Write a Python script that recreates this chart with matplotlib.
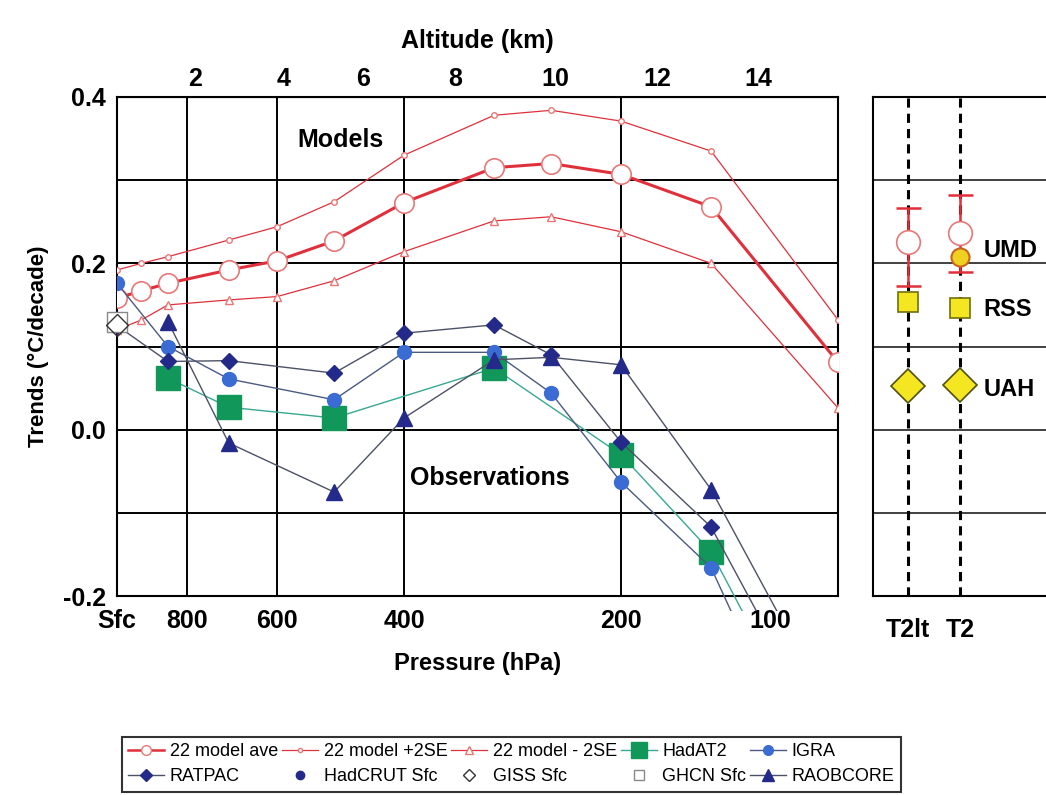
import numpy as np
import matplotlib.pyplot as plt
from matplotlib.lines import Line2D
from matplotlib.patches import Rectangle

plt.rcParams['font.family'] = ['Liberation Sans', 'DejaVu Sans']

# =========================================================
# Data
# =========================================================
p_model = [1000, 925, 850, 700, 600, 500, 400, 300, 250, 200, 150, 100]
model_ave = [0.158, 0.167, 0.176, 0.192, 0.203, 0.227, 0.273, 0.315, 0.320, 0.307, 0.268, 0.081]
model_p2se = [0.192, 0.200, 0.208, 0.228, 0.244, 0.274, 0.330, 0.378, 0.384, 0.371, 0.335, 0.132]
model_m2se = [0.120, 0.132, 0.150, 0.156, 0.160, 0.179, 0.214, 0.251, 0.256, 0.238, 0.200, 0.026]

p_hadat = [850, 700, 500, 300, 200, 150, 100]
hadat2 = [0.062, 0.027, 0.014, 0.074, -0.030, -0.147, -0.437]

p_igra = [1000, 850, 700, 500, 400, 300, 250, 200, 150, 100]
igra = [0.176, 0.100, 0.061, 0.036, 0.093, 0.093, 0.044, -0.063, -0.166, -0.498]

p_ratpac = [1000, 850, 700, 500, 400, 300, 250, 200, 150, 100]
ratpac = [0.125, 0.082, 0.083, 0.068, 0.116, 0.126, 0.090, -0.015, -0.117, -0.400]

p_raob = [850, 700, 500, 400, 300, 250, 200, 150, 100]
raobcore = [0.130, -0.016, -0.075, 0.014, 0.084, 0.087, 0.078, -0.072, -0.354]

hadcrut_sfc = 0.125
giss_sfc = 0.126
ghcn_sfc = 0.130

# satellite panel
sat_x = [1, 2]
sat_labels = ["T2lt", "T2"]
sat_model = [0.226, 0.236]
sat_model_hi = [0.267, 0.282]
sat_model_lo = [0.173, 0.190]
umd_t2 = 0.208
rss = [0.153, 0.146]
uah = [0.052, 0.054]

alt_km = ["2", "4", "6", "8", "10", "12", "14"]
alt_p = [779, 588, 456, 340, 247, 178, 129]

# =========================================================
# Figure
# =========================================================
fig = plt.figure(figsize=(10.46, 7.95), dpi=100)
ax = fig.add_axes([0.1119, 0.2503, 0.6893, 0.6277])
ax2 = fig.add_axes([0.8346, 0.2503, 0.179, 0.6277])

red = "#e0303c"
redm = "#e87878"
navy = "#232a8a"
blue = "#3a6cd4"
green = "#12975a"
lgrey = "#4c5166"

clip = Rectangle((0, -0.03), 1, 1.03, transform=ax.transAxes)

# ---- Models ----
ax.plot(p_model, model_p2se, color=red, lw=0.9, marker="o", ms=4,
        mfc="white", mec=redm, zorder=4)
ax.plot(p_model, model_m2se, color=red, lw=0.9, marker="^", ms=6,
        mfc="white", mec=redm, zorder=4)
ax.plot(p_model, model_ave, color=red, lw=2.2, marker="o", ms=14,
        mfc="white", mec=redm, mew=1.2, zorder=5)

# ---- Observations ----
obs = [
    (p_hadat, hadat2, "s", 17, green, "#38a890"),
    (p_igra, igra, "o", 10, blue, "#4a5a80"),
    (p_ratpac, ratpac, "D", 8, navy, lgrey),
    (p_raob, raobcore, "^", 11, navy, lgrey),
]
for pp, vv, mk, ms, mc, lc in obs:
    ln, = ax.plot(pp, vv, color=lc, lw=1.0, marker=mk, ms=ms, mfc=mc,
                  mec=mc, zorder=6)
    ln.set_clip_path(clip)

ax.plot([1000], [ghcn_sfc], marker="s", ms=14, mfc="white", mec="#888888",
        ls="none", zorder=7, clip_on=False)
ax.plot([1000], [giss_sfc], marker="D", ms=11, mfc="none", mec="#333333",
        ls="none", zorder=7, clip_on=False)
ax.plot([1000], [hadcrut_sfc], marker="o", ms=9, mfc=navy, mec=navy,
        ls="none", zorder=6, clip_on=False)

ax.set_xscale("log")
ax.set_xlim(1000, 100)
ax.set_ylim(-0.2, 0.4)
ax.set_xticks([1000, 800, 600, 400, 200])
ax.set_xticklabels(["Sfc", "800", "600", "400", "200"])
ax.minorticks_off()
ax.set_yticks([-0.2, 0.0, 0.2, 0.4])
ax.set_yticklabels(["-0.2", "0.0", "0.2", "0.4"])
ax.tick_params(axis="both", labelsize=18, length=0, pad=9)
ax.tick_params(axis="y", pad=8)
for t in ax.get_xticklabels() + ax.get_yticklabels():
    t.set_fontweight("bold")
for yv in [-0.1, 0.0, 0.1, 0.2, 0.3]:
    ax.axhline(yv, color="black", lw=1.4, zorder=1)
for xv in [800, 600, 400, 200]:
    ax.axvline(xv, color="black", lw=1.4, zorder=1)
for s in ax.spines.values():
    s.set_linewidth(1.5)

ax.text(124, -0.2155, "100", ha="center", va="top", fontsize=18,
        fontweight="bold")

ax.set_xlabel("Pressure (hPa)", fontsize=17, fontweight="bold", labelpad=14)
ax.set_ylabel("Trends (°C/decade)", fontsize=16, fontweight="bold", labelpad=10)

ax.text(490, 0.348, "Models", fontsize=18, fontweight="bold",
        ha="center", va="center")
ax.text(304, -0.058, "Observations", fontsize=18, fontweight="bold",
        ha="center", va="center")

top = ax.secondary_xaxis("top")
top.set_xticks(alt_p)
top.set_xticklabels(alt_km)
top.minorticks_off()
top.tick_params(length=0, labelsize=18, pad=4)
for t in top.get_xticklabels():
    t.set_fontweight("bold")
top.set_xlabel("Altitude (km)", fontsize=18, fontweight="bold", labelpad=14)

# ---- Satellite panel ----
ax2.set_ylim(-0.2, 0.4)
ax2.set_xlim(0.327, 3.92)
for yv in [-0.1, 0.0, 0.1, 0.2, 0.3]:
    ax2.axhline(yv, color="#333333", lw=1.3, zorder=1)
for xv in sat_x:
    ax2.axvline(xv, color="black", lw=2.2, ls=(0, (3, 2)), zorder=2)
ax2.errorbar(sat_x, sat_model,
             yerr=[np.array(sat_model) - np.array(sat_model_lo),
                   np.array(sat_model_hi) - np.array(sat_model)],
             fmt="none", ecolor=red, elinewidth=1.8, capsize=9, capthick=1.8,
             zorder=3)
ax2.plot(sat_x, sat_model, ls="none", marker="o", ms=17, mfc="white",
         mec=redm, mew=1.2, zorder=4)
ax2.plot([2], [umd_t2], ls="none", marker="o", ms=13, mfc="#f0d020",
         mec="#c8641e", mew=1.5, zorder=5)
ax2.plot(sat_x, rss, ls="none", marker="s", ms=14, mfc="#f4e620",
         mec="#707010", mew=1.2, zorder=5)
ax2.plot(sat_x, uah, ls="none", marker="D", ms=17, mfc="#f4e620",
         mec="#505010", mew=1.2, zorder=5)
ax2.text(2.45, 0.216, "UMD", fontsize=17, fontweight="bold", va="center")
ax2.text(2.45, 0.144, "RSS", fontsize=17, fontweight="bold", va="center")
ax2.text(2.45, 0.048, "UAH", fontsize=17, fontweight="bold", va="center")
ax2.set_xticks(sat_x)
ax2.set_xticklabels(sat_labels)
ax2.set_yticks([])
ax2.tick_params(axis="x", length=0, labelsize=18, pad=16)
for t in ax2.get_xticklabels():
    t.set_fontweight("bold")
for s in ax2.spines.values():
    s.set_linewidth(1.5)

# ---- Legend ----
def h(color, lw, mk, ms, mfc, mec, ls="-"):
    return Line2D([], [], color=color, lw=lw, marker=mk, ms=ms, mfc=mfc,
                  mec=mec, ls=ls)

handles = [
    h(red, 1.8, "o", 7, "white", redm),
    h(lgrey, 1.0, "D", 6, navy, navy),
    h(red, 0.9, "o", 3, "white", redm),
    h(navy, 0, "o", 6, navy, navy, ls="none"),
    h(red, 0.9, "^", 6, "white", redm),
    h("#333333", 0, "D", 6, "none", "#333333", ls="none"),
    h("#38a890", 1.0, "s", 11, green, green),
    h("#888888", 0, "s", 7, "white", "#888888", ls="none"),
    h("#4a5a80", 1.0, "o", 7, blue, blue),
    h(lgrey, 1.0, "^", 8, navy, navy),
]
labels = ["22 model ave", "RATPAC", "22 model +2SE", "HadCRUT Sfc",
          "22 model - 2SE", "GISS Sfc", "HadAT2", "GHCN Sfc", "IGRA",
          "RAOBCORE"]
leg = fig.legend(handles, labels, loc="lower left", ncol=5,
                 bbox_to_anchor=(0.108, -0.007, 0.762, 0.072), mode="expand",
                 fontsize=13, frameon=True, fancybox=False, handlelength=2.0,
                 handletextpad=0.3, columnspacing=0.3, borderpad=0.35,
                 labelspacing=0.45)
leg.get_frame().set_edgecolor("black")
leg.get_frame().set_linewidth(1.5)

plt.savefig("out.png", dpi=100)
